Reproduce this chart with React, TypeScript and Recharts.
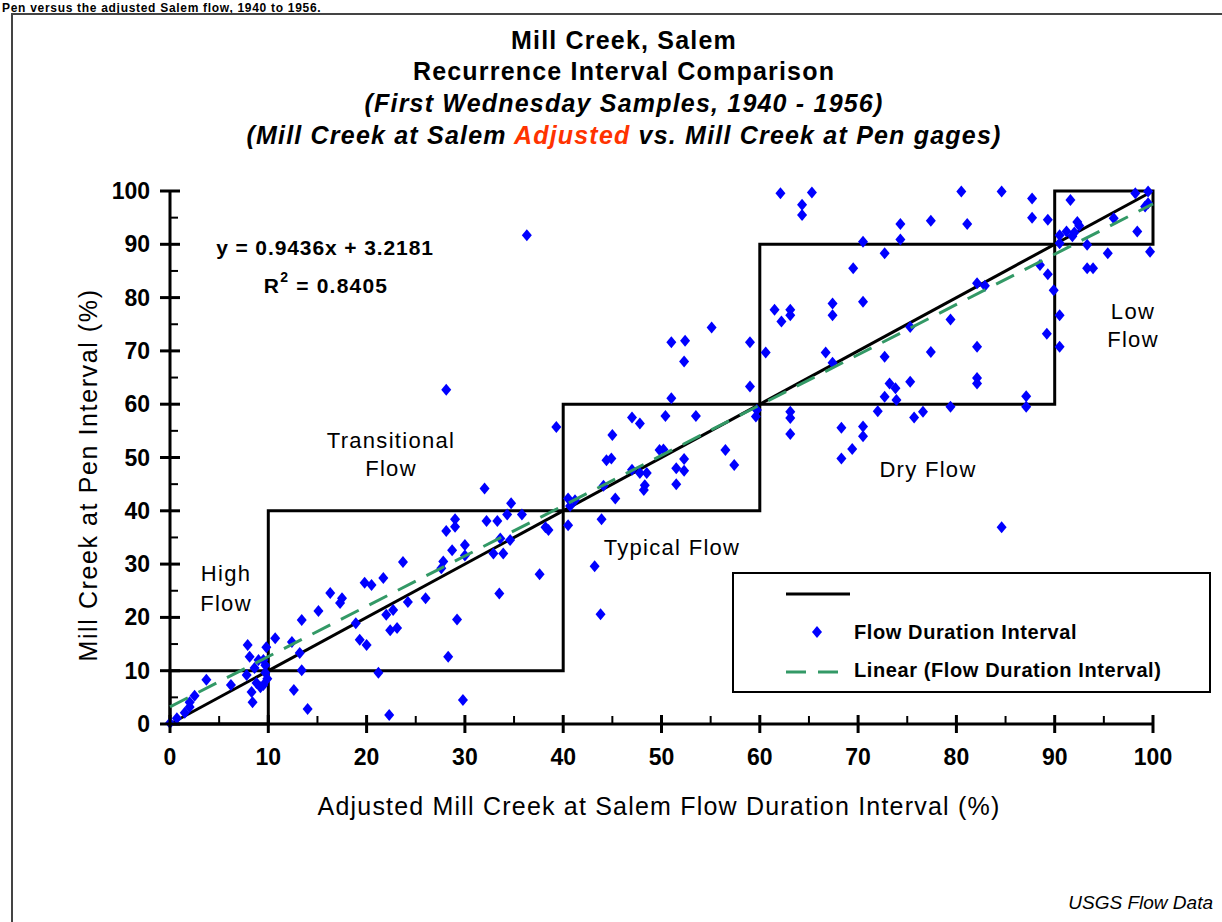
import React from "react";
import { ScatterChart, Scatter, XAxis, YAxis } from "recharts";

const FONT = "'Liberation Sans', Arial, Helvetica, sans-serif";

// [adjusted Salem interval %, Pen interval %], grouped by the flow class of the x value
const highFlowPoints = [
  [0.0, 0.2], [0.7, 1.1], [1.5, 2.1], [2.0, 3.2], [2.0, 4.1], [2.5, 5.3], [3.7, 8.3],
  [6.2, 7.3], [7.9, 14.8], [8.1, 12.6], [7.8, 9.2], [8.3, 6.0], [8.4, 4.1], [8.8, 7.7],
  [9.2, 6.9], [9.0, 12.0], [9.5, 12.0], [9.8, 14.4], [9.7, 9.6], [9.5, 7.3], [9.7, 11.0],
  [9.9, 8.5], [8.6, 10.5],
];

const transitionalPoints = [
  [10.7, 16.1], [12.4, 15.4], [13.4, 19.5], [13.2, 13.3], [13.4, 10.1], [12.6, 6.4],
  [14.0, 2.8], [15.1, 21.2], [16.3, 24.6], [17.3, 22.7], [17.5, 23.6], [18.9, 18.9],
  [19.3, 15.8], [20.0, 14.8], [19.8, 26.5], [20.5, 26.1], [21.2, 9.6], [21.7, 27.4],
  [22.0, 20.5], [22.7, 21.4], [22.4, 17.6], [23.1, 18.0], [22.3, 1.7], [23.7, 30.4],
  [24.2, 22.9], [26.0, 23.6], [27.6, 29.2], [27.8, 30.5], [28.1, 36.2], [29.0, 37.0],
  [29.0, 38.4], [28.7, 32.6], [30.0, 33.6], [30.0, 31.6], [28.1, 62.7], [28.3, 12.6],
  [29.2, 19.6], [29.8, 4.5], [32.0, 44.2], [32.2, 38.1], [33.3, 38.1], [32.9, 32.0],
  [33.9, 32.0], [33.6, 34.8], [34.6, 34.5], [34.7, 41.4], [34.3, 39.3], [35.8, 39.3],
  [33.5, 24.5], [37.6, 28.1], [38.5, 36.4], [38.2, 36.9], [39.3, 55.7], [36.3, 91.7],
];

const typicalPoints = [
  [40.5, 37.3], [43.9, 38.4], [43.2, 29.6], [43.8, 20.6], [40.5, 42.3], [40.7, 40.9],
  [41.2, 42.0], [45.3, 42.3], [44.1, 44.7], [48.3, 44.8], [48.2, 43.9], [48.5, 47.1],
  [47.8, 47.1], [47.0, 47.7], [44.4, 49.5], [44.9, 49.8], [45.0, 54.2], [47.0, 57.5],
  [47.8, 56.4], [49.8, 51.4], [50.4, 57.8], [53.5, 57.8], [51.0, 61.1], [51.0, 71.6],
  [52.4, 71.9], [52.3, 68.0], [55.1, 74.4], [50.2, 51.5], [52.3, 49.7], [51.5, 48.0],
  [52.3, 47.5], [51.5, 45.0], [56.5, 51.4], [57.4, 48.6], [59.0, 71.6], [59.0, 63.3],
  [59.7, 58.9], [59.6, 57.7],
];

const dryFlowPoints = [
  [60.6, 69.7], [61.5, 77.7], [63.1, 77.7], [63.1, 76.7], [62.2, 75.5], [62.1, 99.6],
  [65.3, 99.7], [64.3, 97.4], [64.3, 95.5], [63.1, 58.6], [63.1, 57.4], [63.1, 54.4],
  [66.7, 69.7], [67.4, 78.9], [67.4, 76.7], [67.4, 67.8], [68.3, 55.6], [68.3, 49.8],
  [69.4, 51.6], [69.5, 85.5], [70.5, 90.5], [70.5, 79.2], [70.5, 55.8], [70.5, 54.0],
  [72.7, 88.3], [72.7, 68.9], [72.0, 58.7], [72.7, 61.4], [73.2, 63.9], [73.8, 63.0],
  [73.9, 60.8], [74.3, 93.8], [74.3, 90.9], [75.3, 74.5], [75.3, 64.2], [75.7, 57.5],
  [76.6, 58.6], [77.4, 94.4], [77.4, 69.8], [79.4, 75.9], [79.4, 59.5], [80.5, 99.9],
  [81.1, 93.8], [82.1, 82.7], [82.9, 82.2], [82.1, 70.8], [82.1, 64.9], [82.1, 63.9],
  [84.6, 99.9], [84.6, 36.9], [87.1, 61.5], [87.1, 59.5], [87.7, 98.6], [87.7, 95.0],
  [88.5, 86.1], [89.3, 94.6], [89.3, 84.4], [89.9, 81.4], [89.2, 73.2],
];

const lowFlowPoints = [
  [90.5, 76.7], [90.5, 70.8], [90.5, 91.7], [91.2, 92.4], [90.5, 90.2], [91.6, 98.3],
  [92.3, 94.2], [92.5, 93.5], [91.8, 91.5], [92.0, 92.2], [93.3, 89.9], [93.3, 85.5],
  [93.9, 85.5], [95.4, 88.3], [96.0, 94.9], [98.2, 99.6], [99.5, 99.9], [99.5, 97.7],
  [99.2, 97.1], [98.4, 92.4], [99.7, 88.6],
];

// flow class limits (%), drawn as the boxes
const classBreaks = [0, 10, 40, 60, 90, 100];

const oneToOneLine = [{ x: 0, y: 0 }, { x: 100, y: 100 }];
// y = 0.9436x + 3.2181 at both ends of the axis
const linearTrend = [{ x: 0, y: 3.2181 }, { x: 100, y: 97.5781 }];

const axisTicks = [0, 5, 10, 15, 20, 25, 30, 35, 40, 45, 50, 55, 60, 65, 70, 75, 80, 85, 90, 95, 100];

const flowPoints = [
  ...highFlowPoints,
  ...transitionalPoints,
  ...typicalPoints,
  ...dryFlowPoints,
  ...lowFlowPoints,
].map(([x, y]) => ({ x, y }));

const classBoxes = classBreaks.slice(1).map((hi, i) => {
  const lo = classBreaks[i];
  return [
    { x: lo, y: lo }, { x: hi, y: lo }, { x: hi, y: hi }, { x: lo, y: hi }, { x: lo, y: lo },
  ];
});

const noDot = () => <g />;

const Diamond = (props: any) => {
  const { cx, cy } = props;
  return (
    <path
      d={`M${cx},${cy - 6} L${cx + 5},${cy} L${cx},${cy + 6} L${cx - 5},${cy} Z`}
      fill="#0000FF"
    />
  );
};

const XTick = (props: any) => {
  const { x, y, payload } = props;
  const major = payload.value % 10 === 0;
  return (
    <g>
      {major ? (
        <line x1={x} x2={x} y1={y - 9} y2={y + 9} stroke="#000" strokeWidth={3} />
      ) : (
        <line x1={x} x2={x} y1={y - 8} y2={y} stroke="#000" strokeWidth={2} />
      )}
      {major && (
        <text x={x} y={y + 33} textAnchor="middle" dominantBaseline="central"
          fontFamily={FONT} fontWeight="bold" fontSize={23} fill="#000">
          {payload.value}
        </text>
      )}
    </g>
  );
};

const YTick = (props: any) => {
  const { x, y, payload } = props;
  const major = payload.value % 10 === 0;
  return (
    <g>
      {major ? (
        <line x1={x - 10} x2={x + 10} y1={y} y2={y} stroke="#000" strokeWidth={3} />
      ) : (
        <line x1={x} x2={x + 8} y1={y} y2={y} stroke="#000" strokeWidth={2} />
      )}
      {major && (
        <text x={x - 20} y={y} textAnchor="end" dominantBaseline="central"
          fontFamily={FONT} fontWeight="bold" fontSize={23} fill="#000">
          {payload.value}
        </text>
      )}
    </g>
  );
};

const Overlay = () => (
  <svg width={1222} height={922} style={{ position: "absolute", left: 0, top: 0, pointerEvents: "none" }}>
    <text x={2} y={12} fontFamily={FONT} fontWeight="bold" fontSize={12} letterSpacing={0.7} fill="#000">
      Pen versus the adjusted Salem flow, 1940 to 1956.
    </text>
    <rect x={12} y={14} width={1220} height={920} fill="none" stroke="#444" strokeWidth={2} />

    <g fontFamily={FONT} fontWeight="bold" fill="#000" textAnchor="middle" letterSpacing={1.2}>
      <text x={624} y={49} fontSize={25}>Mill Creek, Salem</text>
      <text x={624} y={80} fontSize={25}>Recurrence Interval Comparison</text>
      <text x={624} y={112} fontSize={25} fontStyle="italic">(First Wednesday Samples, 1940 - 1956)</text>
      <text x={624} y={144} fontSize={25} fontStyle="italic">
        (Mill Creek at Salem <tspan fill="#FF3300">Adjusted</tspan> vs. Mill Creek at Pen gages)
      </text>
    </g>

    <g fontFamily={FONT} fill="#000" textAnchor="middle" dominantBaseline="central">
      <text x={659} y={806} fontSize={25} letterSpacing={1.2}>
        Adjusted Mill Creek at Salem Flow Duration Interval (%)
      </text>
      <text x={88} y={475} fontSize={25} letterSpacing={1.6} transform="rotate(-90 88 475)">
        Mill Creek at Pen Interval (%)
      </text>

      <text x={325} y={247} fontSize={21} fontWeight="bold" letterSpacing={0.9}>y = 0.9436x + 3.2181</text>
      <text x={326} y={285} fontSize={21} fontWeight="bold" letterSpacing={1.2}>
        R<tspan dy={-8} fontSize={14}>2</tspan><tspan dy={8}> = 0.8405</tspan>
      </text>

      <g fontSize={22} letterSpacing={1.3}>
        <text x={226} y={573}>High</text>
        <text x={226} y={603}>Flow</text>
        <text x={391} y={440}>Transitional</text>
        <text x={391} y={468}>Flow</text>
        <text x={672} y={547}>Typical Flow</text>
        <text x={928} y={469}>Dry Flow</text>
        <text x={1133} y={311}>Low</text>
        <text x={1133} y={339}>Flow</text>
      </g>
    </g>

    <g>
      <rect x={733} y={573} width={477} height={119} fill="#fff" stroke="#000" strokeWidth={2} />
      <line x1={786} x2={850} y1={594} y2={594} stroke="#000" strokeWidth={3} />
      <path d="M817,626 L822,632 L817,638 L812,632 Z" fill="#0000FF" />
      <line x1={786} x2={842} y1={672} y2={672} stroke="#339966" strokeWidth={3} strokeDasharray="20 12" />
      <g fontFamily={FONT} fontWeight="bold" fontSize={20} fill="#000" dominantBaseline="central"
        letterSpacing={0.6}>
        <text x={854} y={632}>Flow Duration Interval</text>
        <text x={854} y={670}>Linear (Flow Duration Interval)</text>
      </g>
    </g>

    <text x={1213} y={902} textAnchor="end" dominantBaseline="central" fontFamily={FONT}
      fontStyle="italic" fontSize={19} fill="#000">
      USGS Flow Data
    </text>
  </svg>
);

export default function App() {
  return (
    <div style={{ position: "absolute", left: 0, top: 0, width: 1222, height: 922, background: "#fff" }}>
      <ScatterChart width={1222} height={922} margin={{ top: 191, right: 69, bottom: 138, left: 100 }}>
        <XAxis type="number" dataKey="x" domain={[0, 100]} ticks={axisTicks} interval={0}
          height={60} tickSize={0} tickMargin={0} tickLine={false}
          axisLine={{ stroke: "#000", strokeWidth: 3 }} tick={<XTick />} />
        <YAxis type="number" dataKey="y" domain={[0, 100]} ticks={axisTicks} interval={0}
          width={70} tickSize={0} tickMargin={0} tickLine={false}
          axisLine={{ stroke: "#000", strokeWidth: 3 }} tick={<YTick />} />
        {classBoxes.map((box, i) => (
          <Scatter key={`box-${i}`} data={box} line={{ stroke: "#000", strokeWidth: 3 }}
            shape={noDot} isAnimationActive={false} />
        ))}
        <Scatter data={oneToOneLine} line={{ stroke: "#000", strokeWidth: 3 }}
          shape={noDot} isAnimationActive={false} />
        <Scatter name="Flow Duration Interval" data={flowPoints} shape={<Diamond />}
          isAnimationActive={false} />
        <Scatter name="Linear (Flow Duration Interval)" data={linearTrend}
          line={{ stroke: "#339966", strokeWidth: 3, strokeDasharray: "20 12" }}
          shape={noDot} isAnimationActive={false} />
      </ScatterChart>
      <Overlay />
    </div>
  );
}
